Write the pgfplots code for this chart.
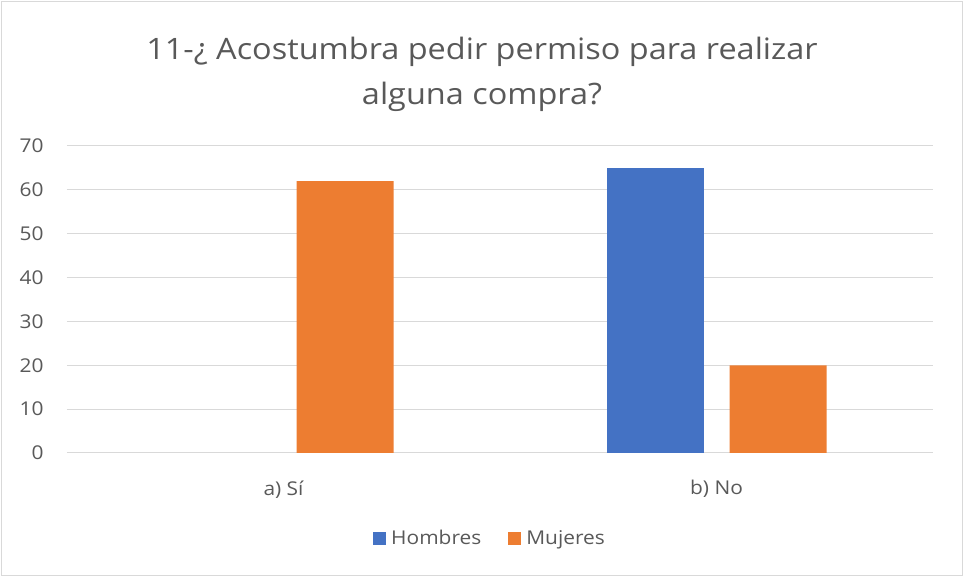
\documentclass[border=0pt]{standalone}
\usepackage{fontspec}
\setmainfont{Open Sans}[FakeStretch=1.1]
\usepackage{pgfplots}
\pgfplotsset{compat=1.18}
\definecolor{hombres}{HTML}{4472C4}
\definecolor{mujeres}{HTML}{ED7D31}
\definecolor{gridc}{HTML}{D9D9D9}
\definecolor{txt}{HTML}{595959}
\begin{document}
\begin{tikzpicture}[x=1pt,y=1pt]
\path[use as bounding box] (-67,-124) rectangle (897,453);
\draw[gridc, line width=1.3pt] (-65.5,-122.5) rectangle (895.5,451.5);
\begin{axis}[
  at={(0,0)}, anchor=south west,
  scale only axis, width=866pt, height=307pt,
  xmin=-0.5, xmax=1.5, ymin=0, ymax=70,
  ytick={0,10,...,70},
  xtick={0,1}, xticklabels={a) Sí, b) No},
  axis line style={draw=none},
  major tick length=0pt,
  ymajorgrids, grid style={gridc, line width=1pt},
  ybar=26pt, bar width=97pt,
  tick label style={font=\fontsize{19}{22}\selectfont, text=txt},
  /pgf/number format/assume math mode=true,
  yticklabel style={xshift=-20pt},
  xticklabel style={yshift=-24pt},
  legend style={at={(0.4885,-0.277)}, anchor=center, draw=none, fill=none,
    legend columns=2, font=\fontsize{19}{22}\selectfont, text=txt,
    /tikz/every odd column/.append style={column sep=3pt},
    /tikz/every even column/.append style={column sep=25pt}},
  legend image code/.code={\fill[#1] (0pt,-6.5pt) rectangle (13pt,6.5pt);},
]
\addplot[fill=hombres, draw=none] coordinates {(1,65)};
\addplot[fill=mujeres, draw=none] coordinates {(0,62) (1,20)};
\legend{Hombres, Mujeres}
\end{axis}
\node[align=center, text=txt, font=\fontsize{29.5}{45}\selectfont] at (415,378.5)
  {11-¿ Acostumbra pedir permiso para realizar\\alguna compra?};
\end{tikzpicture}
\end{document}
